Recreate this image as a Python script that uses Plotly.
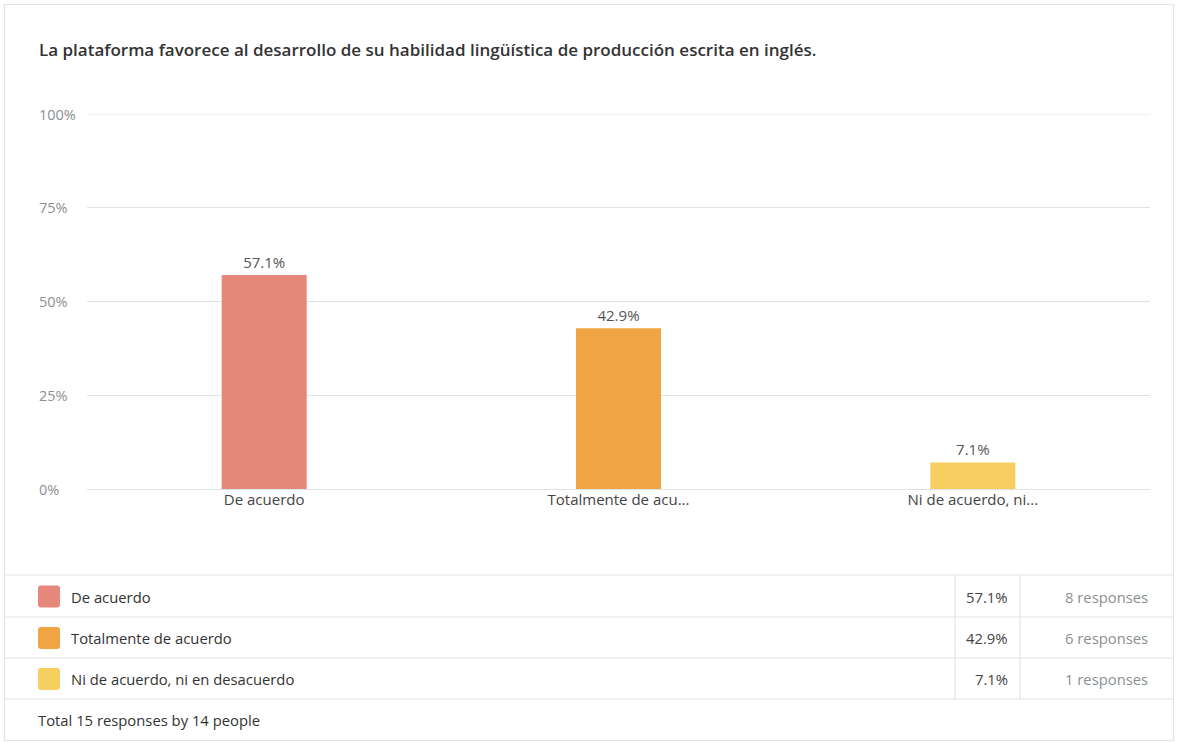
import plotly.graph_objects as go

W, H = 1177, 742

title = "La plataforma favorece al desarrollo de su habilidad lingüística de producción escrita en inglés."
categories = ["De acuerdo", "Totalmente de acuerdo", "Ni de acuerdo, ni en desacuerdo"]
short_labels = ["De acuerdo", "Totalmente de acu...", "Ni de acuerdo, ni..."]
percents = [57.1, 42.9, 7.1]
counts = [8, 6, 1]
colors = ["#E5877A", "#F0A443", "#F7CF61"]
tick_vals = [0, 25, 50, 75, 100]
tick_text = ["0%", "25%", "50%", "75%", "100%"]
total_text = "Total 15 responses by 14 people"

FONT = "Open Sans, Noto Sans, sans-serif"

def px(x):
    return x / W

def py(y):
    return 1 - y / H

fig = go.Figure()
fig.add_trace(go.Bar(
    x=categories, y=percents,
    marker=dict(color=colors, line=dict(width=0)),
    width=0.24,
    text=[f"{p}%" for p in percents],
    textposition="outside",
    textfont=dict(family=FONT, size=15, color="#555555"),
    cliponaxis=False,
    hoverinfo="skip",
))

grid = "#dde3e6"
fig.update_layout(
    width=W, height=H,
    margin=dict(l=0, r=0, t=0, b=0),
    paper_bgcolor="white", plot_bgcolor="white",
    showlegend=False,
    font=dict(family=FONT),
    xaxis=dict(
        domain=[px(87), px(1150)],
        tickvals=categories, ticktext=short_labels,
        tickfont=dict(family=FONT, size=15, color="#444444"),
        showgrid=False, showline=False, zeroline=False, ticks="",
        ticklabelstandoff=0,
    ),
    yaxis=dict(
        domain=[py(489), py(114)],
        range=[0, 100],
        tickvals=tick_vals, showticklabels=False,
        showgrid=True, gridcolor=grid, gridwidth=1,
        zeroline=True, zerolinecolor=grid, zerolinewidth=1,
        showline=False, ticks="",
    ),
)

# y tick labels (left aligned)
for v, t in zip(tick_vals, tick_text):
    fig.add_annotation(x=px(37), xref="paper", y=v, yref="y", text=t,
                       showarrow=False, xanchor="left", yanchor="middle",
                       font=dict(family=FONT, size=14.5, color="#8a8f92"))

# title
fig.add_annotation(x=px(37), y=py(50), xref="paper", yref="paper", text=title,
                   showarrow=False, xanchor="left", yanchor="middle",
                   font=dict(family=FONT, size=17, color="#333333", weight=600))

shapes = []
# top gridline (100%)
shapes.append(dict(type="line", xref="x domain", yref="y", x0=0, x1=1,
                   y0=tick_vals[-1], y1=tick_vals[-1], line=dict(color=grid, width=1.2), layer="below"))

line_col = "#dfe5e7"
# outer border
shapes.append(dict(type="rect", xref="paper", yref="paper",
                   x0=px(4.5), x1=px(1173.5), y0=py(740.5), y1=py(4.5),
                   line=dict(color=line_col, width=1.2), fillcolor="rgba(0,0,0,0)", layer="below"))
# table horizontal lines
row_tops = [575, 617, 658, 699]
for y in row_tops:
    shapes.append(dict(type="line", xref="paper", yref="paper",
                       x0=px(4.5), x1=px(1173.5), y0=py(y), y1=py(y),
                       line=dict(color=line_col, width=1.2)))
# vertical lines
for x in [955, 1020]:
    shapes.append(dict(type="line", xref="paper", yref="paper",
                       x0=px(x), x1=px(x), y0=py(575), y1=py(699),
                       line=dict(color=line_col, width=1.2)))

def rounded_rect(x0, y0, x1, y1, r):
    def P(x, y):
        return f"{px(x):.6f},{py(y):.6f}"
    return (f"M {P(x0 + r, y0)} L {P(x1 - r, y0)} Q {P(x1, y0)} {P(x1, y0 + r)} "
            f"L {P(x1, y1 - r)} Q {P(x1, y1)} {P(x1 - r, y1)} "
            f"L {P(x0 + r, y1)} Q {P(x0, y1)} {P(x0, y1 - r)} "
            f"L {P(x0, y0 + r)} Q {P(x0, y0)} {P(x0 + r, y0)} Z")

for i, (cat, p, c, col) in enumerate(zip(categories, percents, counts, colors)):
    yc = (row_tops[i] + row_tops[i + 1]) / 2 + 0.5
    shapes.append(dict(type="path", xref="paper", yref="paper",
                       path=rounded_rect(38, yc - 11, 60, yc + 11, 3),
                       line=dict(width=0), fillcolor=col))
    fig.add_annotation(x=px(69), y=py(yc), xref="paper", yref="paper", text=cat,
                       showarrow=False, xanchor="left", yanchor="middle",
                       font=dict(family=FONT, size=14.8, color="#333333"))
    fig.add_annotation(x=px(1010), y=py(yc), xref="paper", yref="paper", text=f"{p}%",
                       showarrow=False, xanchor="right", yanchor="middle",
                       font=dict(family=FONT, size=14.8, color="#444444"))
    fig.add_annotation(x=px(1150), y=py(yc), xref="paper", yref="paper", text=f"{c} responses",
                       showarrow=False, xanchor="right", yanchor="middle",
                       font=dict(family=FONT, size=14.8, color="#8a8f92"))

fig.add_annotation(x=px(36), y=py(720), xref="paper", yref="paper", text=total_text,
                   showarrow=False, xanchor="left", yanchor="middle",
                   font=dict(family=FONT, size=14.8, color="#333333"))

fig.update_layout(shapes=shapes)
fig.write_html("out.html")
